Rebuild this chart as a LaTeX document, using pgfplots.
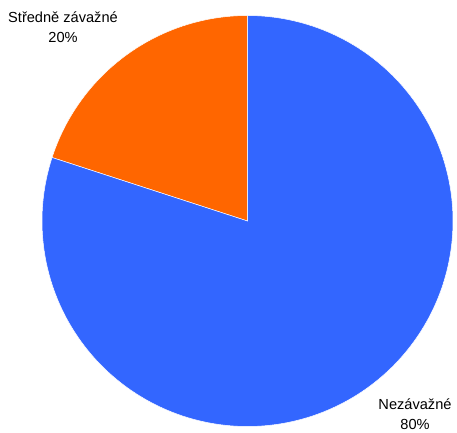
\documentclass[border=0pt]{standalone}
\usepackage{pgfplots}
\pgfplotsset{compat=1.18}
\usepackage{fontspec}
\setmainfont{Liberation Sans}
\definecolor{pieblue}{HTML}{3366FF}
\definecolor{pieorange}{HTML}{FF6600}
% data: Nezávažné 80, Středně závažné 20
\def\valA{80}
\def\valB{20}
\def\cx{247.5}
\def\cy{211}
\def\rr{205.5}
\begin{document}
\begin{tikzpicture}
\pgfmathsetmacro{\angB}{90+\valB*3.6}
\pgfmathsetmacro{\angA}{\angB+\valA*3.6}
\begin{axis}[
  scale only axis, width=457pt, height=432pt,
  xmin=0, xmax=457, ymin=0, ymax=432,
  hide axis, clip=false,
]
\path (axis cs:0,0) rectangle (axis cs:457,432);
\addplot[fill=pieorange, draw=white, line width=0.5pt, samples=80, domain=90:\angB, smooth]
  ({\cx+\rr*cos(x)},{\cy+\rr*sin(x)}) -- (axis cs:\cx,\cy) -- cycle;
\addplot[fill=pieblue, draw=white, line width=0.5pt, samples=200, domain=\angB:\angA, smooth]
  ({\cx+\rr*cos(x)},{\cy+\rr*sin(x)}) -- (axis cs:\cx,\cy) -- cycle;
\node[align=center, inner sep=0pt, font=\fontsize{14.6}{20}\selectfont] at (axis cs:63,405) {Středně závažné\\\valB\%};
\node[align=center, inner sep=0pt, font=\fontsize{14.6}{20}\selectfont] at (axis cs:415,18) {Nezávažné\\\valA\%};
\end{axis}
\end{tikzpicture}
\end{document}
